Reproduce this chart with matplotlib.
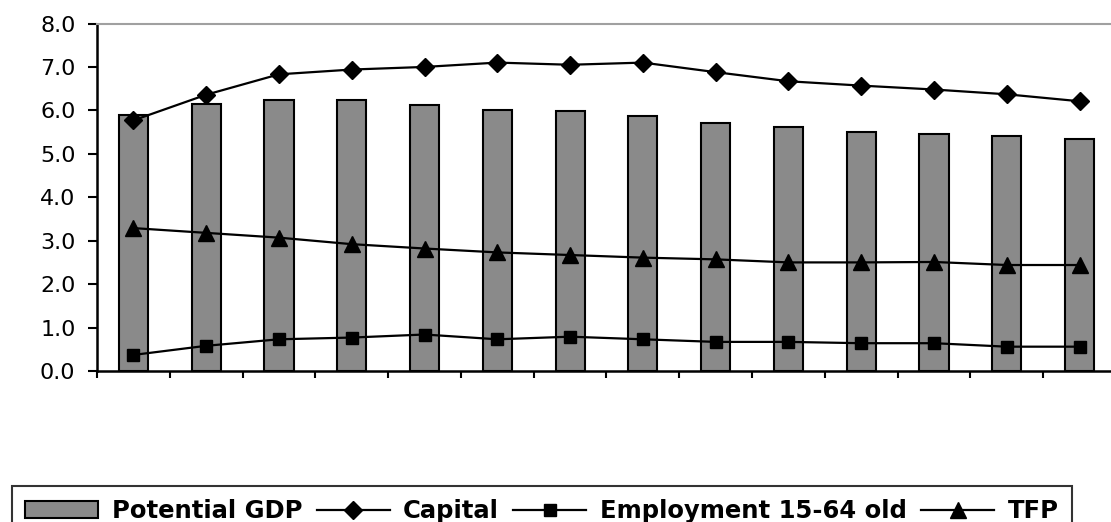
import matplotlib.pyplot as plt
import numpy as np

# values (14 periods, no x labels shown)
potential_gdp = [5.89, 6.14, 6.23, 6.23, 6.13, 6.02, 5.98, 5.87, 5.71, 5.62, 5.50, 5.45, 5.40, 5.35]
capital = [5.77, 6.36, 6.83, 6.94, 7.00, 7.10, 7.05, 7.10, 6.88, 6.67, 6.57, 6.48, 6.37, 6.21]
employment = [0.37, 0.58, 0.73, 0.77, 0.84, 0.73, 0.79, 0.73, 0.67, 0.67, 0.64, 0.64, 0.56, 0.56]
tfp = [3.29, 3.18, 3.07, 2.92, 2.82, 2.73, 2.67, 2.61, 2.57, 2.50, 2.50, 2.51, 2.44, 2.44]
yticks = [0.0, 1.0, 2.0, 3.0, 4.0, 5.0, 6.0, 7.0, 8.0]

W, H = 1111, 522
fig = plt.figure(figsize=(W / 100, H / 100), dpi=100)
ax = fig.add_axes([97 / W, 1 - 371 / H, (1116 - 97) / W, (371 - 23.5) / H])

x = np.arange(len(potential_gdp))
bars = ax.bar(x, potential_gdp, width=0.4, color="#8a8a8a", edgecolor="black",
              linewidth=1.5, label="Potential GDP", zorder=2)
(l_cap,) = ax.plot(x, capital, color="black", lw=1.6, marker="D", ms=9,
                   label="Capital", zorder=3)
(l_emp,) = ax.plot(x, employment, color="black", lw=1.6, marker="s", ms=8,
                   label="Employment 15-64 old", zorder=3)
(l_tfp,) = ax.plot(x, tfp, color="black", lw=1.6, marker="^", ms=11,
                   label="TFP", zorder=3)

ax.set_xlim(-0.5, len(x) - 0.5)
ax.set_ylim(0, 8)
ax.set_xticks(x - 0.5)
ax.set_xticklabels([])
ax.set_yticks(yticks)
ax.set_yticklabels([f"{v:.1f}" for v in yticks], fontsize=16, family="DejaVu Sans")
ax.tick_params(axis="y", direction="out", length=6.5, width=1.5, pad=9)
ax.tick_params(axis="x", direction="out", length=5, width=1.5)

for s in ("left", "bottom"):
    ax.spines[s].set_linewidth(1.8)
ax.spines["top"].set_color("#a0a0a0")
ax.spines["top"].set_linewidth(1.5)
ax.spines["right"].set_visible(False)

leg = fig.legend([bars, l_cap, l_emp, l_tfp],
                 ["Potential GDP", "Capital", "Employment 15-64 old", "TFP"],
                 loc="upper left", bbox_to_anchor=(12 / W, 1 - 486 / H),
                 ncol=4, frameon=True, fancybox=False, borderaxespad=0,
                 handlelength=3.0, handletextpad=0.55, columnspacing=0.6,
                 borderpad=0.55,
                 prop={"family": "DejaVu Sans", "weight": "bold", "size": 17.5})
leg.get_frame().set_edgecolor("black")
leg.get_frame().set_linewidth(1.5)

fig.savefig("out.png", dpi=100)
